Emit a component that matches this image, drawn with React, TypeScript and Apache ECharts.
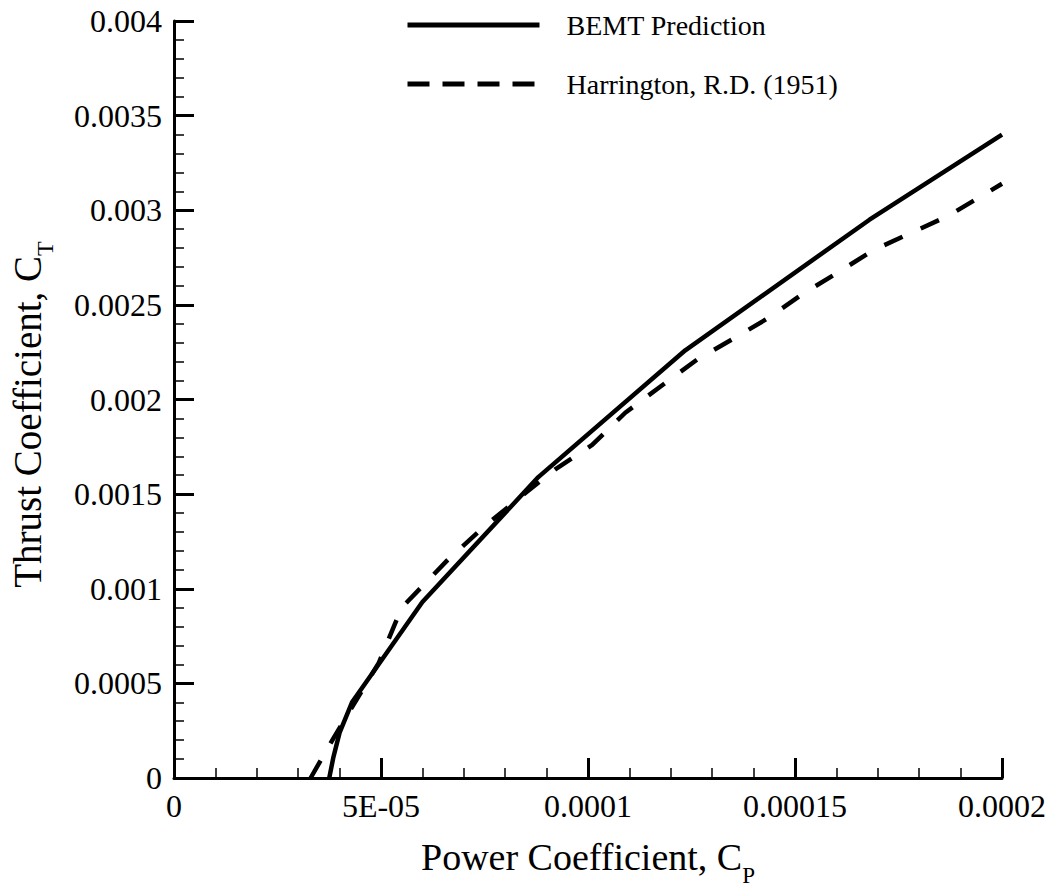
import React, { useEffect, useRef } from "react";
import * as echarts from "echarts";

const xTickLabels = ["0", "5E-05", "0.0001", "0.00015", "0.0002"];
const yTickLabels = ["0", "0.0005", "0.001", "0.0015", "0.002", "0.0025", "0.003", "0.0035", "0.004"];

const bemtCp = [3.75e-5, 3.85e-5, 4.0e-5, 4.3e-5, 6.0e-5, 8.8e-5, 1.235e-4, 1.68e-4, 2.0e-4];
const bemtCt = [0, 0.00011, 0.00024, 0.0004, 0.00093, 0.00159, 0.00226, 0.00295, 0.0034];

const harrCp = [
  3.3e-5, 3.85e-5, 4.4e-5, 4.95e-5, 5.5e-5, 6.6e-5, 7.5e-5, 8.4e-5, 9.2e-5, 1.01e-4,
  1.09e-4, 1.176e-4, 1.263e-4, 1.35e-4, 1.435e-4, 1.52e-4, 1.61e-4, 1.69e-4, 1.78e-4, 1.87e-4, 2.0e-4,
];
const harrCt = [
  0, 0.00021, 0.00041, 0.00061, 0.0009, 0.00115, 0.00133, 0.00149, 0.00163, 0.00176,
  0.00193, 0.00207, 0.00221, 0.00232, 0.00243, 0.00256, 0.00268, 0.00279, 0.00288, 0.00297, 0.00314,
];

const FONT = "Liberation Serif";

export default function App() {
  const ref = useRef<HTMLDivElement>(null);
  useEffect(() => {
    if (!ref.current) return;
    const chart = echarts.init(ref.current, null, { renderer: "svg" });
    const xInt = 0.00005;
    const yInt = 0.0005;
    const hidden = { color: "rgba(0,0,0,0)", borderWidth: 0, borderColor: "rgba(0,0,0,0)" };
    chart.setOption({
      animation: false,
      backgroundColor: "#fff",
      textStyle: { fontFamily: FONT, color: "#000" },
      grid: { left: 174, right: 55, top: 21, bottom: 111, containLabel: false, outerBoundsMode: "none" },
      legend: {
        orient: "vertical",
        left: 405,
        top: 11,
        padding: 0,
        itemWidth: 132,
        itemHeight: 20,
        itemGap: 31,
        itemStyle: hidden,
        textStyle: { fontFamily: FONT, fontSize: 28, color: "#000", padding: [0, 0, 0, 22] },
        data: [
          { name: "BEMT Prediction", itemStyle: hidden, lineStyle: { width: 5, type: "solid", color: "#000" } },
          { name: "Harrington, R.D. (1951)", itemStyle: hidden, lineStyle: { width: 5, type: [22, 13], color: "#000" } },
        ],
      },
      xAxis: {
        type: "value",
        min: 0,
        max: 0.0002,
        interval: xInt,
        name: "Power Coefficient, C{sub|P}",
        nameLocation: "middle",
        nameGap: 43,
        nameTextStyle: {
          fontFamily: FONT,
          fontSize: 38,
          lineHeight: 60,
          color: "#000",
          rich: { sub: { fontFamily: FONT, fontSize: 23, lineHeight: 24, color: "#000", verticalAlign: "bottom" } },
        },
        axisLine: { show: true, lineStyle: { color: "#000", width: 3 } },
        axisTick: { show: true, inside: true, length: 20, lineStyle: { color: "#000", width: 3 } },
        minorTick: { show: true, splitNumber: 5, length: 10, lineStyle: { color: "#000", width: 1.5 } },
        splitLine: { show: false },
        axisLabel: {
          margin: 12,
          fontFamily: FONT,
          fontSize: 32,
          color: "#000",
          formatter: (v: number) => xTickLabels[Math.round(v / xInt)] ?? "",
        },
      },
      yAxis: {
        type: "value",
        min: 0,
        max: 0.004,
        interval: yInt,
        name: "Thrust Coefficient, C{sub|T}",
        nameLocation: "middle",
        nameGap: 117,
        nameTextStyle: {
          fontFamily: FONT,
          fontSize: 39,
          lineHeight: 60,
          color: "#000",
          padding: [0, 30, 0, 0],
          rich: { sub: { fontFamily: FONT, fontSize: 24, lineHeight: 24, color: "#000", verticalAlign: "bottom" } },
        },
        axisLine: { show: true, lineStyle: { color: "#000", width: 3 } },
        axisTick: { show: true, inside: true, length: 20, lineStyle: { color: "#000", width: 3 } },
        minorTick: { show: true, splitNumber: 5, length: 10, lineStyle: { color: "#000", width: 1.5 } },
        splitLine: { show: false },
        axisLabel: {
          margin: 12,
          fontFamily: FONT,
          fontSize: 32,
          color: "#000",
          formatter: (v: number) => yTickLabels[Math.round(v / yInt)] ?? "",
        },
      },
      series: [
        {
          name: "BEMT Prediction",
          type: "line",
          symbol: "none",
          data: bemtCp.map((x, i) => [x, bemtCt[i]]),
          lineStyle: { color: "#000", width: 4.5, type: "solid", join: "round" },
          itemStyle: { color: "#000" },
        },
        {
          name: "Harrington, R.D. (1951)",
          type: "line",
          symbol: "none",
          data: harrCp.map((x, i) => [x, harrCt[i]]),
          lineStyle: { color: "#000", width: 4.5, type: [20, 20], join: "round" },
          itemStyle: { color: "#000" },
        },
      ],
    });
    return () => chart.dispose();
  }, []);
  return (
    <div
      ref={ref}
      style={{ position: "fixed", left: 0, top: 0, width: 1057, height: 889, background: "#fff" }}
    />
  );
}
